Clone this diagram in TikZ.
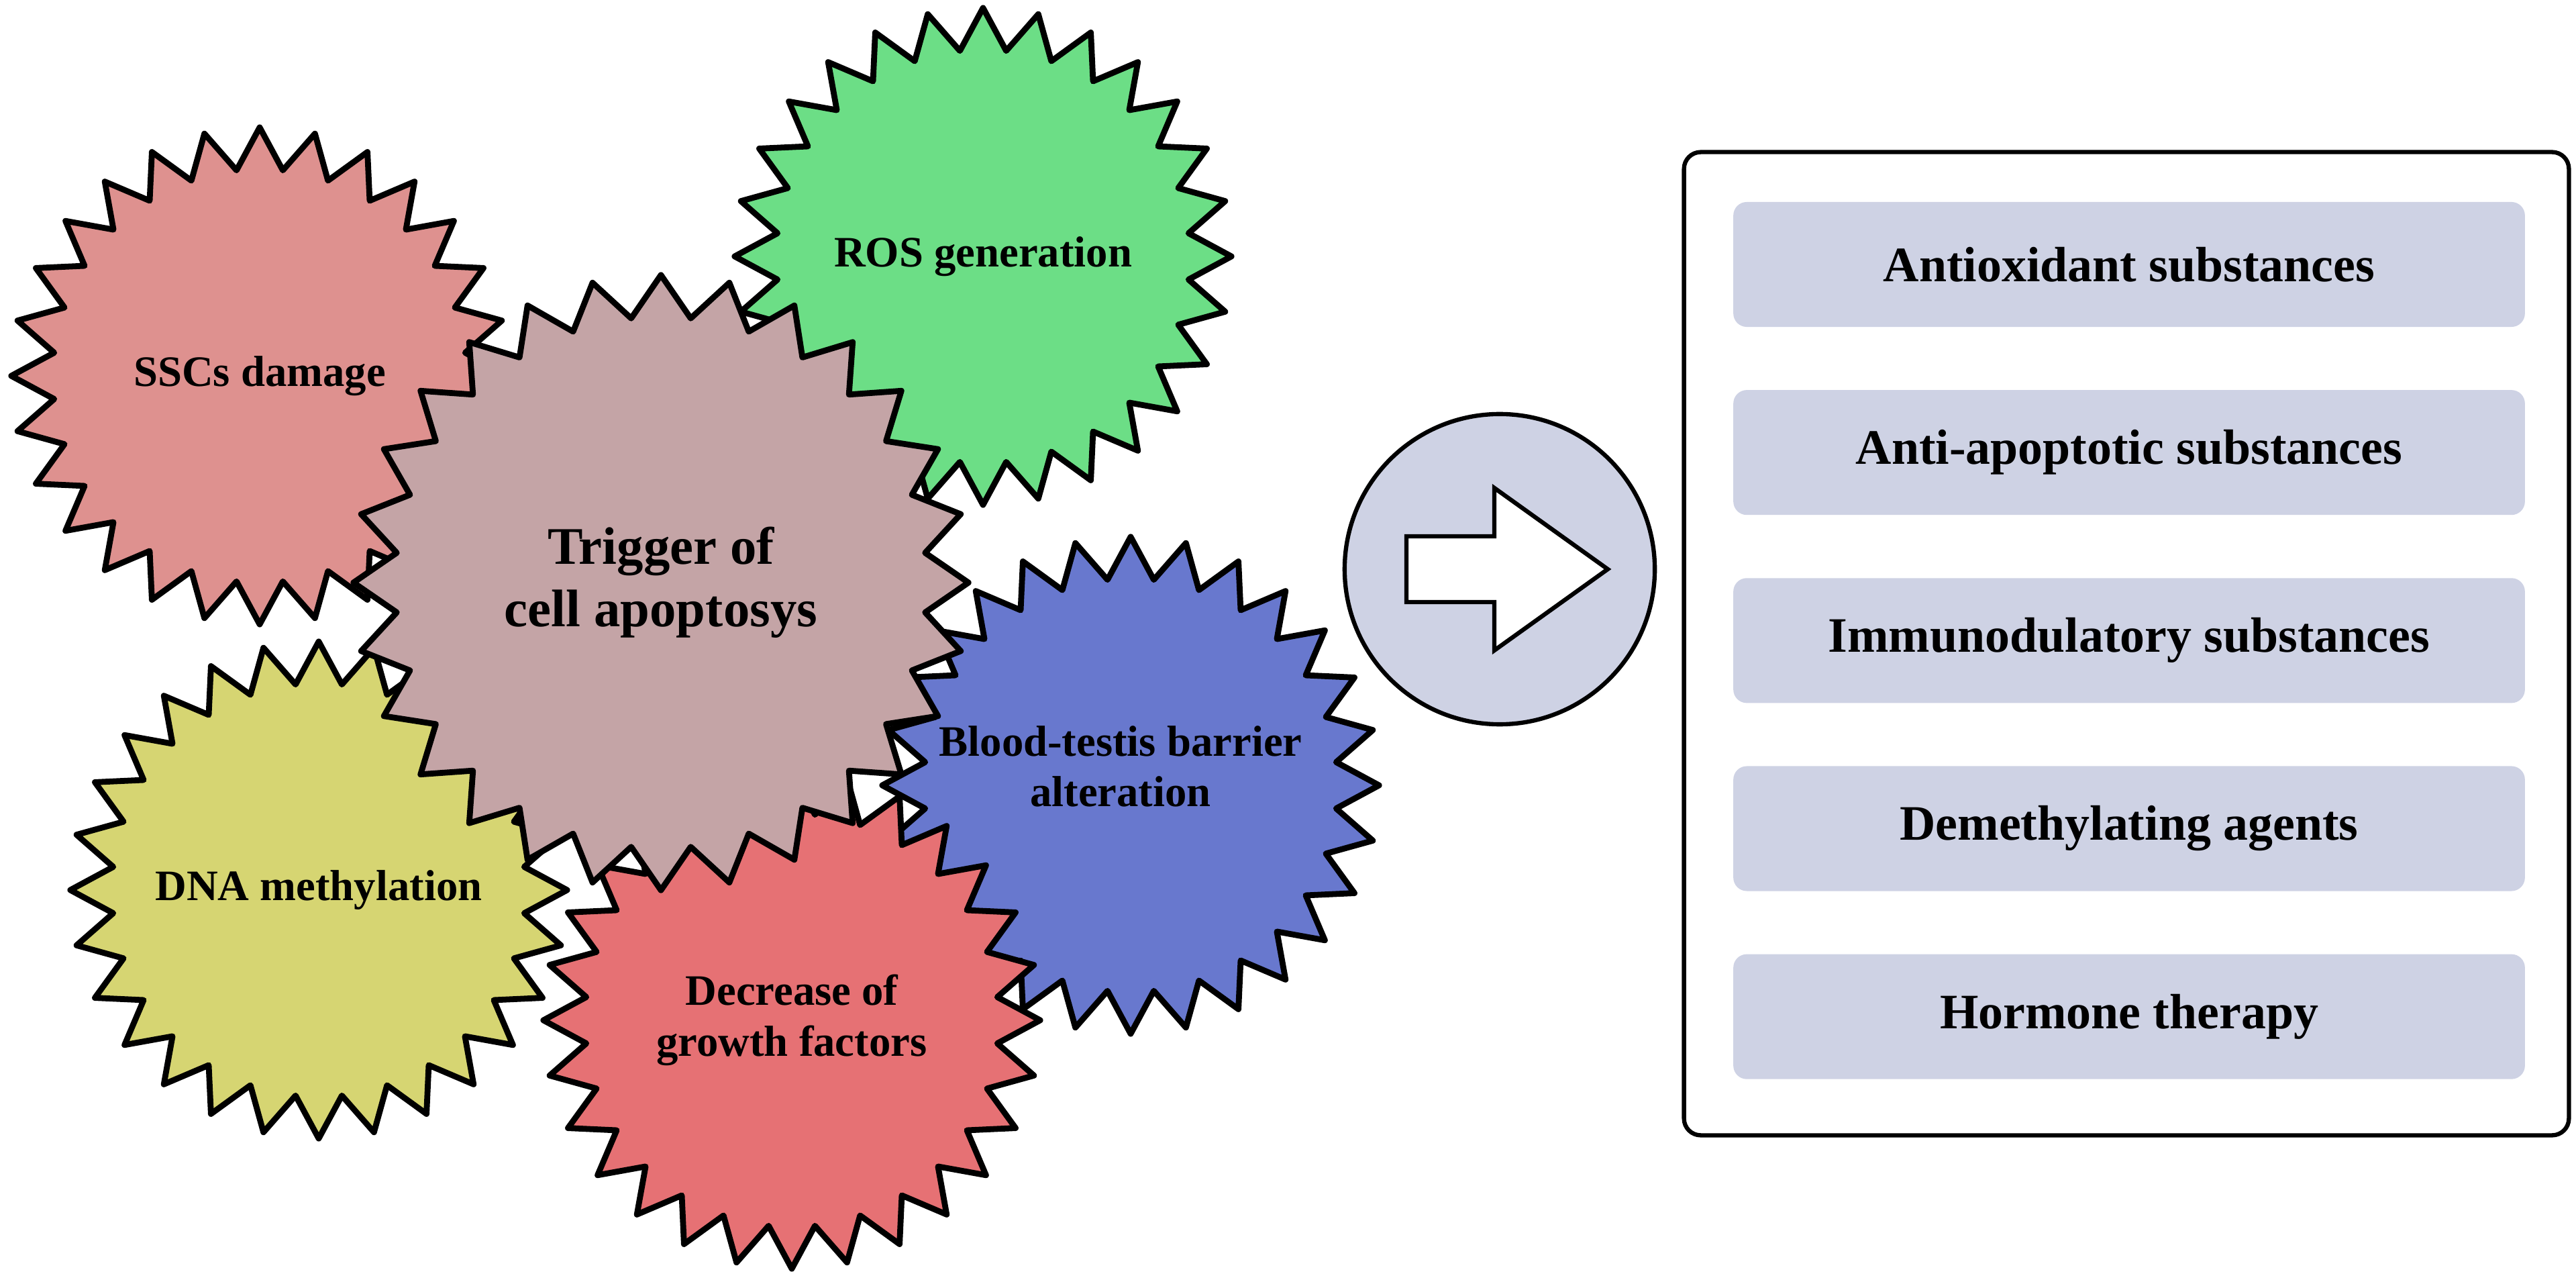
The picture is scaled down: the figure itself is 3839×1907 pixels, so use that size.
\documentclass[tikz,border=0pt]{standalone}
\usepackage{fontspec}
\setmainfont{Liberation Serif}
\usepackage{tikz}
\usetikzlibrary{shapes}
\usetikzlibrary{positioning}
\definecolor{sscpink}{RGB}{222,145,143}
\definecolor{rosgreen}{RGB}{108,222,134}
\definecolor{mauve}{RGB}{196,164,166}
\definecolor{btbblue}{RGB}{104,120,206}
\definecolor{dnayellow}{RGB}{214,213,114}
\definecolor{decred}{RGB}{230,113,116}
\definecolor{lavender}{RGB}{206,210,228}
\tikzstyle{burst} = [starburst, draw, line width=2.5pt, line join=round,
    starburst points=28, starburst point height=0.62cm, random starburst=0,
    minimum width=7.4cm, minimum height=7.4cm, inner sep=0pt]
\tikzstyle{bigburst} = [burst, minimum width=9.16cm, minimum height=9.16cm]
\tikzstyle{bursttext} = [align=center,
    font=\fontsize{18.4}{21.5}\selectfont\bfseries]
\tikzstyle{panel} = [rectangle, draw, line width=1.8pt, rounded corners=0.25cm,
    minimum width=13.18cm, minimum height=14.64cm]
\tikzstyle{remedy} = [rectangle, fill=lavender, rounded corners=0.2cm,
    minimum width=11.79cm, minimum height=1.86cm,
    font=\fontsize{21}{25}\selectfont\bfseries]
\tikzstyle{hollow} = [draw, fill=white, line width=1.8pt, line join=miter]

\begin{document}
\begin{tikzpicture}[x=0.01cm, y=-0.01cm, node distance=2.8cm]
  \useasboundingbox (0,0) rectangle (3839,1907);
  % Place bursts, back to front
  \node [burst, fill=sscpink] (ssc) at (387,560) {};
  \node [bursttext] (ssc-t) at (ssc) {SSCs damage};
  \node [burst, fill=rosgreen] (ros) at (1465,382) {};
  \node [bursttext] (ros-t) at (ros) {ROS generation};
  \node [burst, fill=btbblue] (btb) at (1685,1170) {};
  \node [bursttext] (btb-t) at (1670,1142) {Blood-testis barrier\\alteration};
  \node [burst, fill=dnayellow] (dna) at (475,1326) {};
  \node [bursttext] (dna-t) at (dna) {DNA methylation};
  \node [burst, fill=decred] (dec) at (1180,1520) {};
  \node [bursttext] (dec-t) at (dec) {Decrease of\\growth factors};
  \node [bigburst, fill=mauve] (trig) at (985,868) {};
  \node [bursttext, font=\fontsize{22.4}{26.5}\selectfont\bfseries] (trig-t)
    at (trig) {Trigger of\\cell apoptosys};

  % arrow
  \node [circle, draw, fill=lavender, line width=1.8pt, minimum size=4.62cm,
    inner sep=0pt] (go) at (2235,848) {};
  \draw [hollow, shift={(go.center)}] (-139,-49) -- (-8,-49) -- (-8,-121)
    -- (161,0) -- (-8,121) -- (-8,49) -- (-139,49) -- cycle;

  % remedies
  \node [panel] (panel) at (3169,959) {};
  \node [remedy] (antiox) at (3173,394) {Antioxidant substances};
  \node [remedy, below of=antiox] (antiapo) {Anti-apoptotic substances};
  \node [remedy, below of=antiapo] (immuno) {Immunodulatory substances};
  \node [remedy, below of=immuno] (demeth) {Demethylating agents};
  \node [remedy, below of=demeth] (hormone) {Hormone therapy};
\end{tikzpicture}
\end{document}
